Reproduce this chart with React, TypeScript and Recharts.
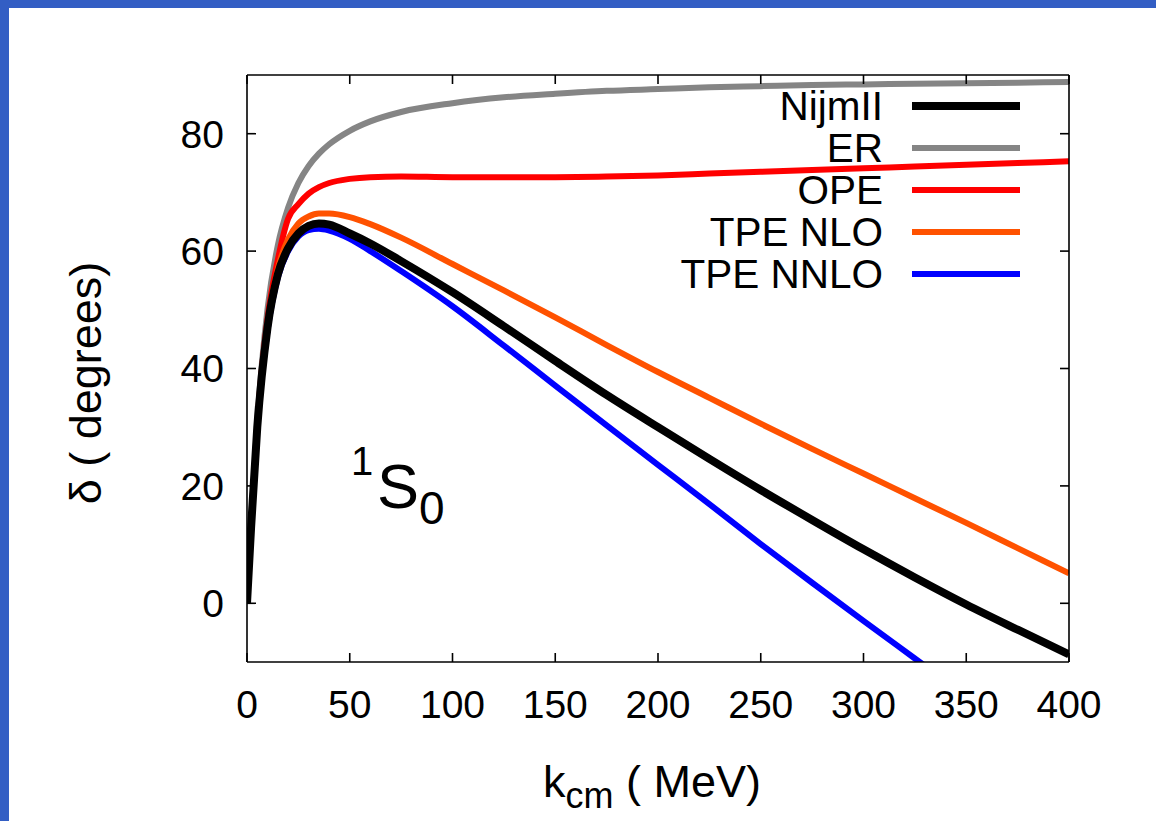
import { LineChart, Line, XAxis, YAxis, Legend } from 'recharts';

const FONT = '"Liberation Sans", Arial, Helvetica, sans-serif';
const FRAME_BLUE = '#335ec4';

// centre-of-mass momentum (MeV)
const K = [0, 2, 5, 10, 15, 20, 25, 30, 35, 40, 50, 60, 75, 100, 125, 150, 175, 200, 225, 250, 275, 300, 325, 350, 375, 400];

// 1S0 phase shifts (degrees)
const NIJM_II = [0, 13, 30, 47, 56, 60.5, 63, 64.3, 64.7, 64.5, 63.0, 61.3, 58.3, 53.0, 47.2, 41.3, 35.5, 30.0, 24.6, 19.3, 14.2, 9.2, 4.4, -0.2, -4.5, -8.7];
const ER = [0, 13.5, 31.0, 50.2, 61.0, 67.4, 71.6, 74.5, 76.6, 78.2, 80.5, 82.1, 83.7, 85.2, 86.2, 86.8, 87.3, 87.6, 87.9, 88.1, 88.3, 88.4, 88.5, 88.6, 88.7, 88.8];
const OPE = [0, 13.3, 30.5, 48.5, 58.5, 65.5, 68.0, 69.8, 70.9, 71.6, 72.3, 72.6, 72.7, 72.6, 72.6, 72.6, 72.7, 72.9, 73.2, 73.5, 73.8, 74.1, 74.4, 74.7, 75.0, 75.3];
const TPE_NLO = [0, 13, 30, 47.5, 57, 62, 64.7, 65.9, 66.4, 66.4, 65.8, 64.6, 62.3, 57.8, 53.3, 48.7, 44.0, 39.4, 35.0, 30.6, 26.3, 22.1, 17.9, 13.7, 9.4, 5.1];
const TPE_NNLO = [0, 13, 30, 46.5, 55.5, 60, 62.5, 63.6, 63.8, 63.5, 62.1, 60.0, 56.6, 50.6, 43.9, 37.1, 30.3, 23.6, 16.9, 10.1, 3.5, -3.0, -9.4, -15.8, null, null];

const X_TICKS = [0, 50, 100, 150, 200, 250, 300, 350, 400];
const Y_TICKS = [0, 20, 40, 60, 80];

const SERIES = [
  { key: 'nijm', name: 'NijmII', color: '#000000', width: 8 },
  { key: 'er', name: 'ER', color: '#858585', width: 6 },
  { key: 'ope', name: 'OPE', color: '#ff0000', width: 6 },
  { key: 'nlo', name: 'TPE NLO', color: '#ff5200', width: 6 },
  { key: 'nnlo', name: 'TPE NNLO', color: '#0000ff', width: 6 },
];

const data = K.map((k, i) => ({
  k,
  nijm: NIJM_II[i],
  er: ER[i],
  ope: OPE[i],
  nlo: TPE_NLO[i],
  nnlo: TPE_NNLO[i],
}));

const axisStroke = { stroke: '#000', strokeWidth: 1.6 };
const tickStyle = { fill: '#000', fontSize: 39, fontFamily: FONT };

const renderLegend = () => (
  <div style={{ fontFamily: FONT, fontSize: 40.5, color: '#000' }}>
    {SERIES.map((s) => (
      <div key={s.key} style={{ display: 'flex', alignItems: 'center', height: 42 }}>
        <span style={{ width: 300, textAlign: 'right', lineHeight: '42px', whiteSpace: 'nowrap' }}>{s.name}</span>
        <svg width={140} height={42} style={{ display: 'block' }}>
          <line x1={29} x2={137} y1={21} y2={21} stroke={s.color} strokeWidth={s.width} />
        </svg>
      </div>
    ))}
  </div>
);

// the black reference curve goes on top
const drawOrder = ['er', 'ope', 'nlo', 'nnlo', 'nijm'];

// tick marks without labels (tick={false} would drop the marks as well)
const NoLabel = () => <g />;

// gnuplot-style inward ticks: mirrored axes carrying only tick marks
const xTickOnly = {
  type: 'number' as const,
  dataKey: 'k',
  domain: [0, 400],
  ticks: X_TICKS,
  interval: 0,
  mirror: true,
  allowDataOverflow: true,
  height: 1,
  tick: NoLabel,
  tickSize: 9,
  tickLine: axisStroke,
};
const yTickOnly = {
  type: 'number' as const,
  domain: [-10, 90],
  ticks: Y_TICKS,
  interval: 0,
  mirror: true,
  allowDataOverflow: true,
  width: 1,
  tick: NoLabel,
  tickSize: 9,
  tickLine: axisStroke,
};

export default function App() {
  return (
    <div style={{ position: 'absolute', left: 0, top: 0, width: 1156, height: 821, background: '#fff', overflow: 'hidden' }}>
      <div style={{ position: 'absolute', left: 0, top: 0 }}>
        <LineChart
          width={1156}
          height={821}
          data={data}
          margin={{ top: 75, right: 87, bottom: 158, left: 246 }}
        >
          <XAxis
            dataKey="k"
            type="number"
            domain={[0, 400]}
            ticks={X_TICKS}
            interval={0}
            allowDataOverflow
            height={1}
            axisLine={axisStroke}
            tickLine={false}
            tickSize={0}
            tickMargin={28}
            tick={tickStyle}
          />
          <XAxis xAxisId="bottomTicks" orientation="bottom" axisLine={false} {...xTickOnly} />
          <XAxis xAxisId="top" orientation="top" axisLine={axisStroke} {...xTickOnly} />
          <YAxis
            type="number"
            domain={[-10, 90]}
            ticks={Y_TICKS}
            interval={0}
            allowDataOverflow
            width={1}
            axisLine={axisStroke}
            tickLine={false}
            tickSize={0}
            tickMargin={23}
            tick={tickStyle}
          />
          <YAxis yAxisId="leftTicks" orientation="left" axisLine={false} {...yTickOnly} />
          <YAxis yAxisId="right" orientation="right" axisLine={axisStroke} {...yTickOnly} />
          {/* unstroked copies so the tick-only axes get a domain */}
          <Line xAxisId="bottomTicks" yAxisId="leftTicks" dataKey="nijm" stroke="none" dot={false} activeDot={false} legendType="none" isAnimationActive={false} />
          <Line xAxisId="top" yAxisId="right" dataKey="nijm" stroke="none" dot={false} activeDot={false} legendType="none" isAnimationActive={false} />
          {drawOrder.map((key) => {
            const s = SERIES.find((d) => d.key === key)!;
            return (
              <Line
                key={s.key}
                dataKey={s.key}
                name={s.name}
                type="monotone"
                stroke={s.color}
                strokeWidth={s.width}
                dot={false}
                activeDot={false}
                isAnimationActive={false}
              />
            );
          })}
          <Legend
            layout="horizontal"
            verticalAlign="middle"
            align="center"
            content={renderLegend}
            wrapperStyle={{ top: 85, left: 583, width: 440, right: 'auto', bottom: 'auto' }}
          />
          <text fontFamily={FONT} fill="#000">
            <tspan x={351} y={475} fontSize={40}>1</tspan>
            <tspan x={377} y={508} fontSize={63}>S</tspan>
            <tspan x={419} y={524} fontSize={46}>0</tspan>
          </text>
          <text
            x={85}
            y={383}
            transform="rotate(-90, 85, 383)"
            textAnchor="middle"
            dominantBaseline="central"
            fontFamily={FONT}
            fontSize={45}
            fill="#000"
          >
            δ ( degrees)
          </text>
          <text x={543} y={797} fontFamily={FONT} fontSize={45} fill="#000">
            k<tspan dy={11} fontSize={36}>cm</tspan>
            <tspan dy={-11}> ( MeV)</tspan>
          </text>
        </LineChart>
      </div>
      <div style={{ position: 'absolute', left: 0, top: 0, width: 1156, height: 8, background: FRAME_BLUE }} />
      <div style={{ position: 'absolute', left: 0, top: 0, width: 9, height: 821, background: FRAME_BLUE }} />
    </div>
  );
}
